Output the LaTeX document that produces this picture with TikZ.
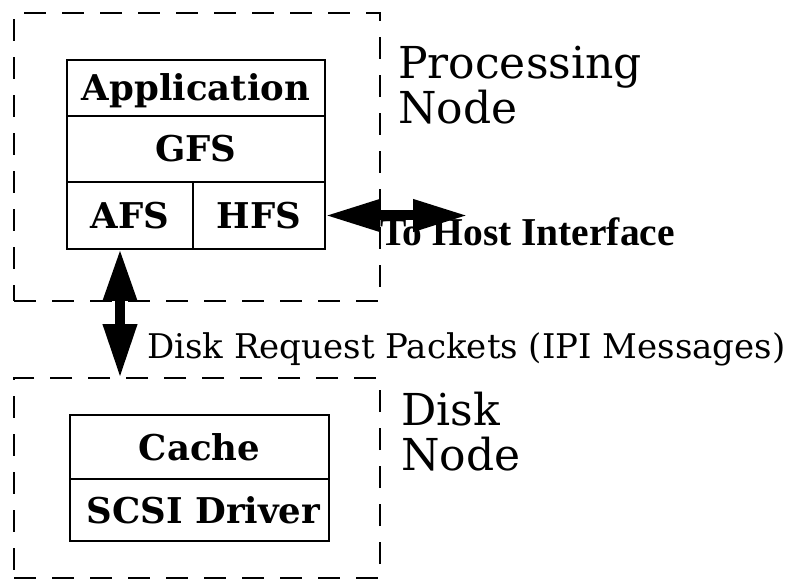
\documentclass[tikz,border=0pt]{standalone}
\usepackage{fontspec}
\setmainfont{DejaVu Serif}
\newfontfamily\timesbf{Liberation Serif}[BoldFont={* Bold}]
\usetikzlibrary{arrows.meta}

\tikzset{
  nodebox/.style={draw, line width=2pt, dash pattern=on 22pt off 16pt,
    rectangle, inner sep=0pt, outer sep=0pt, anchor=north west},
  cell/.style={draw, line width=2pt, rectangle, inner sep=0pt, outer sep=0pt,
    anchor=north west, font=\fontsize{35.5}{38}\selectfont\bfseries,
    text height=26pt, text depth=0pt},
  bigtitle/.style={anchor=base west, inner sep=0pt, text depth=0pt,
    font=\fontsize{44}{50}\selectfont},
  plainlabel/.style={anchor=base west, inner sep=0pt, font=\fontsize{34}{38}\selectfont},
  hostlabel/.style={anchor=base west, inner sep=0pt, font=\fontsize{39.5}{42}\timesbf\bfseries},
  dblarrow/.style={line width=10pt,
    {Triangle[length=52pt,width=32pt]}-{Triangle[length=54pt,width=32pt]}},
  dblarrowh/.style={line width=10pt,
    {Triangle[length=55pt,width=30pt]}-{Triangle[length=55pt,width=30pt]}},
}

\begin{document}
\begin{tikzpicture}[x=1pt, y=-1pt]
  \useasboundingbox (0,0) rectangle (793,580);

  % dashed node outlines
  \node[nodebox, minimum width=366pt, minimum height=287.7pt] (pnode) at (14,13) {};
  \node[nodebox, minimum width=366pt, minimum height=200pt] (dnode) at (14,378) {};

  % processing node software stack
  \node[cell, minimum width=258pt, minimum height=56pt] (app) at (67,60) {Application};
  \node[cell, minimum width=258pt, minimum height=66pt] (gfs) at (67,116) {GFS};
  \node[cell, minimum width=126pt, minimum height=67pt] (afs) at (67,182) {AFS};
  \node[cell, minimum width=132pt, minimum height=67pt] (hfs) at (193,182) {HFS};

  % disk node stack
  \node[cell, minimum width=259pt, minimum height=64pt] (cache) at (70,415) {Cache};
  \node[cell, minimum width=259pt, minimum height=62pt] (scsi) at (70,479) {\hspace*{8pt}SCSI Driver};

  % titles
  \node[bigtitle] (ptitle1) at (398,79) {Processing};
  \node[bigtitle] (ptitle2) at (398,124) {Node};
  \node[bigtitle] (dtitle1) at (401,425) {Disk};
  \node[bigtitle] (dtitle2) at (401,470) {Node};

  % connectors
  \coordinate (host) at (468,215.5);
  \draw[dblarrowh] (hfs.east) -- (host);
  \draw[dblarrow] ([xshift=53pt]afs.south west) -- ([xshift=106pt]dnode.north west);

  \node[hostlabel] (hostlbl) at (380,246) {To Host Interface};
  \node[plainlabel] (reqlbl) at (147,358) {Disk Request Packets (IPI Messages)};
\end{tikzpicture}
\end{document}
